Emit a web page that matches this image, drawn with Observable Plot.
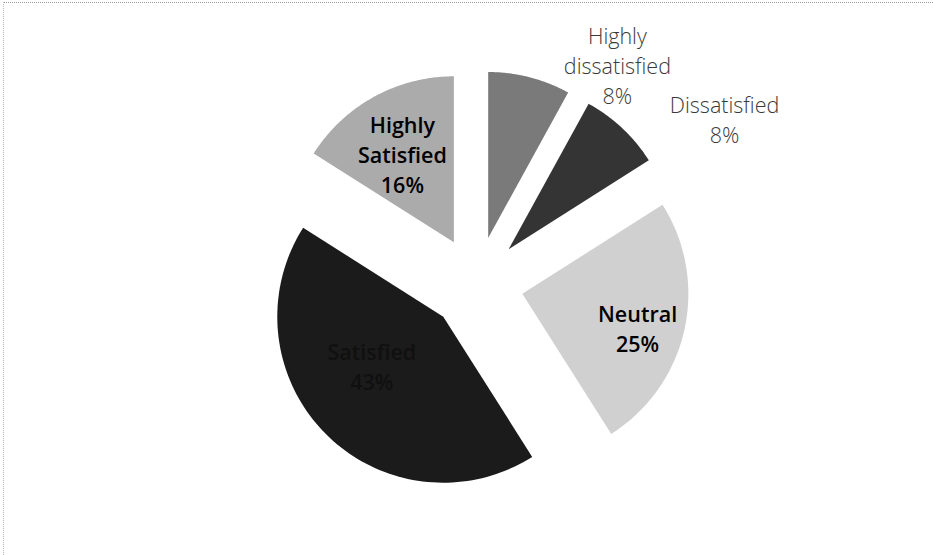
<!DOCTYPE html>
<html><head><meta charset="utf-8">
<script src="https://cdn.jsdelivr.net/npm/d3@7"></script>
<script src="https://cdn.jsdelivr.net/npm/@observablehq/plot@0.6"></script>
<style>
body{margin:0;background:#fff;}
#chart{position:relative;width:933px;height:555px;overflow:hidden;background:#fff;}
#chart .frame{position:absolute;left:3px;top:2px;right:0;bottom:0;border-top:1px dotted #9a9a9a;border-left:1px dotted #b5b5b5;pointer-events:none;}
#chart svg{position:absolute;left:0;top:0;}
</style></head><body><div id="chart"><div class="frame"></div></div>
<script>
// Data
const categories = ["Highly dissatisfied", "Dissatisfied", "Neutral", "Satisfied", "Highly Satisfied"];
const percents = [8, 8, 25, 43, 16];
const labelTexts = ["Highly\ndissatisfied\n8%", "Dissatisfied\n8%", "Neutral\n25%", "Satisfied\n43%", "Highly\nSatisfied\n16%"];
const grays = ["#7a7a7a", "#343434", "#d0d0d0", "#1b1b1b", "#ababab"];

// Layout (kept apart from the data)
const W = 933, H = 555, R = 166, CX = 476, CY = 283;
const explode = 0.283;
const placement = {
  "Highly dissatisfied": {deg: 32.7, r: 1.571, inside: false, color: "#3a3a3a"},
  "Dissatisfied": {deg: 56.3, r: 1.796, inside: false, color: "#3a3a3a"},
  "Neutral": {deg: 105.1, r: 1.005, inside: true, color: "#000"},
  "Satisfied": {deg: 232, r: 0.80, inside: true, color: "#101010"},
  "Highly Satisfied": {deg: 330.4, r: 0.904, inside: true, color: "#000"}
};

const arcs = d3.pie().sort(null).value(d => d)(percents);
const slicePts = [];
arcs.forEach((a, i) => {
  const mid = (a.startAngle + a.endAngle) / 2;
  const ox = explode * Math.sin(mid), oy = explode * Math.cos(mid);
  slicePts.push({name: categories[i], x: ox, y: oy});
  const n = 90;
  for (let k = 0; k <= n; k++) {
    const t = a.startAngle + (a.endAngle - a.startAngle) * k / n;
    slicePts.push({name: categories[i], x: ox + Math.sin(t), y: oy + Math.cos(t)});
  }
});

const labels = categories.map((c, i) => {
  const p = placement[c];
  const t = p.deg * Math.PI / 180;
  return {name: c, text: labelTexts[i], x: p.r * Math.sin(t), y: p.r * Math.cos(t), inside: p.inside, color: p.color};
});

const font = "'Open Sans', Lato, 'Noto Sans', sans-serif";
const plot = Plot.plot({
  width: W, height: H,
  marginTop: 0, marginRight: 0, marginBottom: 0, marginLeft: 0,
  x: {domain: [-CX / R, (W - CX) / R], axis: null},
  y: {domain: [-(H - CY) / R, CY / R], axis: null},
  color: {domain: categories, range: grays},
  style: {background: "transparent", fontFamily: font},
  marks: [
    Plot.line(slicePts, {x: "x", y: "y", z: "name", fill: "name", stroke: "none", curve: "linear-closed"}),
    Plot.text(labels.filter(d => !d.inside), {x: "x", y: "y", text: "text", fontSize: 21.5, lineHeight: 1.4, fontWeight: 300, fill: d => d.color, fontFamily: font}),
    Plot.text(labels.filter(d => d.inside), {x: "x", y: "y", text: "text", fontSize: 21.5, lineHeight: 1.4, fontWeight: 600, fill: d => d.color, fontFamily: font})
  ]
});
document.getElementById("chart").appendChild(plot);
</script>
</body></html>
